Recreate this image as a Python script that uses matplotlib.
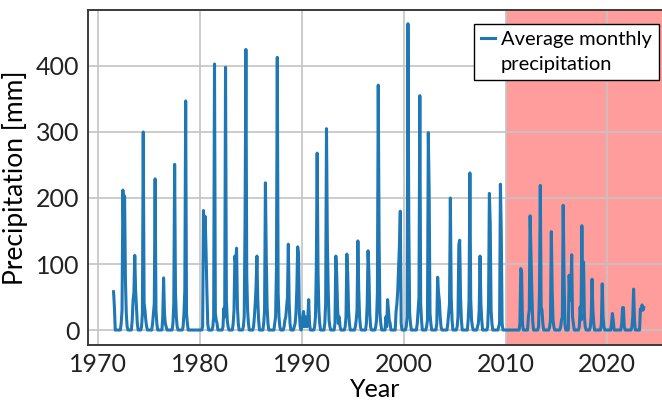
import numpy as np
import matplotlib
matplotlib.use("Agg")
import matplotlib.pyplot as plt
from matplotlib.lines import Line2D

plt.rcParams['font.family'] = ['Lato', 'DejaVu Sans']

# Monthly precipitation [mm], Jan..Dec per row; series starts July 1971
start_year = 1971
start_month = 7

precip_1970s = (
    [58, 35, 0, 0, 0, 0]                                  # 1971 (Jul-Dec)
    + [0, 0, 0, 10, 30, 212, 150, 203, 76, 25, 5, 0]      # 1972
    + [0, 0, 0, 0, 15, 45, 57, 113, 60, 35, 10, 0]        # 1973
    + [0, 0, 0, 5, 25, 300, 41, 30, 15, 5, 0, 0]          # 1974
    + [0, 0, 0, 0, 10, 25, 40, 229, 30, 10, 0, 0]         # 1975
    + [0, 0, 0, 0, 20, 79, 25, 10, 5, 0, 0, 0]            # 1976
    + [0, 0, 0, 0, 10, 40, 251, 56, 20, 5, 0, 0]          # 1977
    + [0, 0, 0, 0, 5, 25, 60, 347, 25, 10, 0, 0]          # 1978
    + [0, 0, 0, 0, 0, 0, 0, 0, 0, 0, 0, 0]                # 1979
)

precip_1980s = (
    [0, 0, 0, 5, 181, 150, 172, 120, 60, 10, 0, 0]        # 1980
    + [0, 0, 0, 5, 20, 403, 25, 15, 10, 0, 0, 0]          # 1981
    + [0, 0, 0, 5, 33, 20, 398, 45, 15, 5, 0, 0]          # 1982
    + [0, 0, 0, 10, 30, 112, 100, 124, 35, 10, 0, 0]      # 1983
    + [0, 0, 0, 5, 20, 164, 425, 83, 30, 10, 0, 0]        # 1984
    + [0, 0, 0, 5, 20, 40, 67, 112, 45, 15, 0, 0]         # 1985
    + [0, 0, 0, 10, 30, 223, 111, 35, 10, 0, 0, 0]        # 1986
    + [0, 0, 0, 0, 10, 20, 92, 413, 56, 20, 5, 0]         # 1987
    + [0, 0, 0, 5, 15, 20, 35, 50, 130, 40, 10, 0]        # 1988
    + [0, 0, 0, 5, 10, 25, 60, 126, 116, 25, 5, 0]        # 1989
)

precip_1990s = (
    [5, 20, 28, 5, 20, 10, 5, 20, 46, 10, 0, 0]           # 1990
    + [0, 0, 0, 5, 20, 93, 268, 88, 30, 10, 0, 0]         # 1991
    + [0, 0, 0, 10, 40, 305, 136, 60, 15, 5, 0, 0]        # 1992
    + [0, 0, 0, 10, 112, 86, 35, 10, 20, 5, 0, 0]         # 1993
    + [0, 0, 0, 5, 20, 115, 85, 30, 10, 0, 0, 0]          # 1994
    + [0, 0, 0, 5, 15, 30, 135, 60, 20, 5, 0, 0]          # 1995
    + [0, 0, 0, 0, 10, 40, 120, 86, 25, 5, 0, 0]          # 1996
    + [0, 0, 0, 5, 15, 56, 371, 135, 25, 10, 0, 0]        # 1997
    + [0, 0, 0, 20, 5, 46, 30, 15, 10, 0, 0, 0]           # 1998
    + [0, 0, 0, 28, 40, 60, 93, 130, 180, 10, 0, 0]       # 1999
)

precip_2000s = (
    [0, 0, 0, 5, 20, 464, 166, 25, 10, 0, 0, 0]           # 2000
    + [0, 0, 0, 0, 10, 30, 50, 355, 40, 15, 0, 0]         # 2001
    + [0, 0, 0, 5, 15, 299, 210, 25, 10, 0, 0, 0]         # 2002
    + [0, 0, 0, 10, 80, 57, 45, 20, 5, 0, 0, 0]           # 2003
    + [0, 0, 0, 0, 10, 25, 40, 200, 50, 15, 0, 0]         # 2004
    + [0, 0, 0, 5, 20, 129, 136, 50, 15, 0, 0, 0]         # 2005
    + [0, 0, 0, 0, 15, 44, 238, 46, 15, 5, 0, 0]          # 2006
    + [0, 0, 0, 5, 10, 30, 112, 40, 15, 0, 0, 0]          # 2007
    + [0, 0, 0, 5, 40, 207, 160, 30, 10, 0, 0, 0]         # 2008
    + [0, 0, 0, 0, 5, 10, 221, 147, 10, 0, 0, 0]          # 2009
)

precip_2010s = (
    [0, 0, 0, 0, 0, 0, 0, 0, 0, 0, 0, 0]                  # 2010
    + [0, 0, 0, 0, 0, 10, 93, 88, 10, 0, 0, 0]            # 2011
    + [0, 0, 0, 20, 30, 173, 116, 60, 15, 0, 0, 0]        # 2012
    + [0, 0, 0, 5, 56, 219, 35, 30, 10, 0, 0, 0]          # 2013
    + [0, 0, 0, 0, 5, 15, 149, 60, 15, 5, 0, 0]           # 2014
    + [0, 0, 0, 0, 0, 5, 15, 20, 189, 81, 10, 0]          # 2015
    + [0, 0, 0, 83, 45, 50, 114, 20, 10, 0, 0, 0]         # 2016
    + [0, 0, 0, 5, 35, 15, 158, 40, 103, 20, 5, 0]        # 2017
    + [0, 0, 0, 0, 5, 20, 77, 30, 10, 0, 0, 0]            # 2018
    + [0, 0, 0, 0, 0, 10, 70, 20, 5, 0, 0, 0]             # 2019
)

precip_2020s = (
    [0, 0, 0, 0, 0, 10, 25, 15, 0, 0, 0, 0]               # 2020
    + [0, 0, 0, 0, 0, 10, 34, 34, 5, 0, 0, 0]             # 2021
    + [0, 0, 0, 0, 0, 5, 20, 62, 15, 0, 0, 0]             # 2022
    + [0, 0, 0, 32, 30, 38, 30, 34]                       # 2023 (Jan-Aug)
)

highlight_start = 2010
x_ticks = [1970, 1980, 1990, 2000, 2010, 2020]
y_ticks = [0, 100, 200, 300, 400]
legend_lines = ["Average monthly", "precipitation"]

precip = np.array(precip_1970s + precip_1980s + precip_1990s
                  + precip_2000s + precip_2010s + precip_2020s, dtype=float)
t = start_year + (start_month - 1) / 12 + np.arange(len(precip)) / 12

W, H = 662, 400
fig = plt.figure(figsize=(W / 100, H / 100), dpi=100)
ax = fig.add_axes([88 / W, 55 / H, (663 - 88) / W, 335 / H])

xmin, xmax = 1968.99, 2025.47
ax.set_xlim(xmin, xmax)
ax.set_ylim(-22.7, 484.8)

ax.axvspan(highlight_start, xmax, color='#ff9d9d', zorder=0.2, lw=0)
ax.grid(True, color='#c4c4c4', linewidth=1.2)
ax.set_axisbelow(True)

line, = ax.plot(t, precip, color='#1f77b4', linewidth=2.2, zorder=3)

ax.set_xticks(x_ticks)
ax.set_yticks(y_ticks)
ax.tick_params(length=0, labelsize=18, pad=6, colors='#222222')
ax.set_xlabel("Year", fontsize=18, labelpad=1)
ax.set_ylabel("Precipitation [mm]", fontsize=19, labelpad=6)

for s in ['top', 'left', 'bottom', 'right']:
    ax.spines[s].set_color('#3a3a3a')
    ax.spines[s].set_linewidth(1.4)

blank = Line2D([], [], alpha=0)
leg = ax.legend([line, blank], legend_lines, loc='upper right',
                bbox_to_anchor=(659 / W, 1 - 24 / H), bbox_transform=fig.transFigure,
                borderaxespad=0, fontsize=14.5, frameon=True, fancybox=False,
                handlelength=0.7, handletextpad=0.3, labelspacing=0.4,
                borderpad=0.35, framealpha=1)
leg.get_frame().set_edgecolor('black')
leg.get_frame().set_linewidth(1.0)

fig.savefig("out.png", dpi=100)
